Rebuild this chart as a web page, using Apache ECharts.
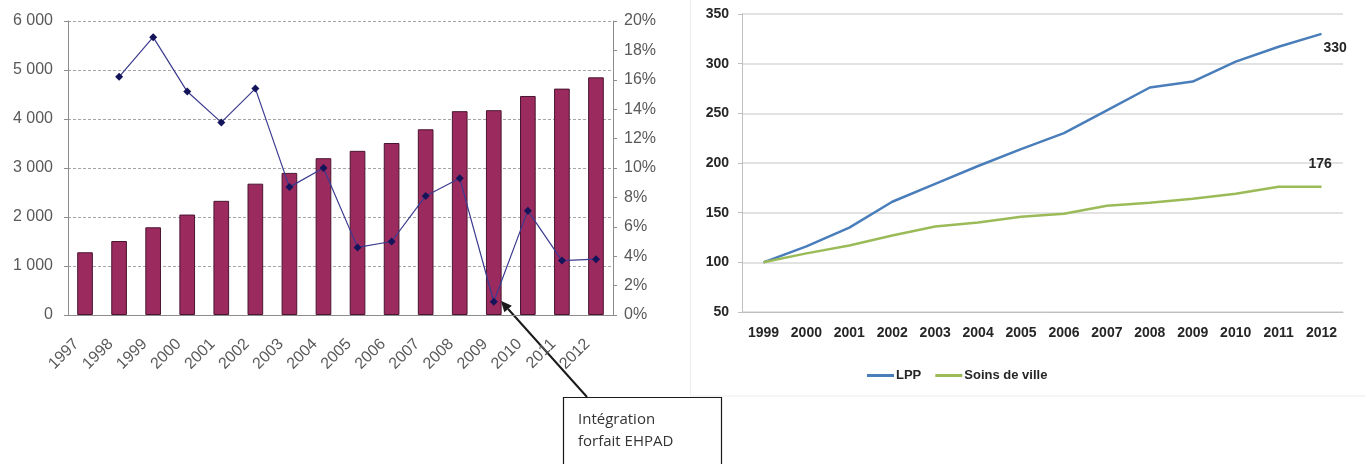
<!DOCTYPE html>
<html>
<head>
<meta charset="utf-8">
<script src="https://cdn.jsdelivr.net/npm/echarts@6/dist/echarts.min.js"></script>
<style>
  html, body { margin: 0; padding: 0; background: #fff; }
  #chart { width: 1366px; height: 464px; }
</style>
</head>
<body>
<div id="chart"></div>
<script>
// left chart : montants (barres) et taux d'évolution (courbe)
const yearsLeft = ['1997', '1998', '1999', '2000', '2001', '2002', '2003', '2004',
  '2005', '2006', '2007', '2008', '2009', '2010', '2011', '2012']
const montants = [1280, 1510, 1790, 2050, 2330, 2680, 2900, 3200,
  3350, 3510, 3790, 4160, 4180, 4470, 4620, 4850]
const evolution = [null, 16.2, 18.9, 15.2, 13.1, 15.4, 8.7, 10.0,
  4.6, 5.0, 8.1, 9.3, 0.9, 7.1, 3.7, 3.8]

// right chart : indices base 100 en 1999
const yearsRight = ['1999', '2000', '2001', '2002', '2003', '2004', '2005',
  '2006', '2007', '2008', '2009', '2010', '2011', '2012']
const lpp = [100, 116, 135, 161, 179, 197, 214, 230, 253, 276, 282, 302, 317, 330]
const soinsVille = [100, 109, 117, 127, 136, 140, 146, 149, 157, 160, 164, 169, 176, 176]

const grey = '#595959'
const leftFont = 'Liberation Sans'
const rightFont = 'Liberation Sans'

const chart = echarts.init(document.getElementById('chart'))

chart.setOption({
  animation: false,
  grid: [
    { left: 68, right: 753, top: 21, bottom: 149 },
    { left: 742, right: 23, top: 14, bottom: 152 }
  ],
  legend: {
    data: ['LPP', 'Soins de ville'],
    left: 862,
    top: 364,
    icon: 'rect',
    itemWidth: 27,
    itemHeight: 3,
    itemGap: 14,
    textStyle: { fontFamily: rightFont, fontWeight: 'bold', fontSize: 13, color: '#262626', padding: [0, 0, 0, -3] }
  },
  xAxis: [
    {
      type: 'category',
      gridIndex: 0,
      data: yearsLeft,
      axisLine: { lineStyle: { color: '#8c8c8c' } },
      axisTick: { length: 4, lineStyle: { color: '#8c8c8c' } },
      axisLabel: {
        rotate: 45,
        interval: 0,
        margin: 18,
        padding: [0, 12, 0, 0],
        fontFamily: leftFont,
        fontSize: 16,
        color: grey
      }
    },
    {
      type: 'category',
      gridIndex: 1,
      data: yearsRight,
      axisLine: { lineStyle: { color: '#bfbfbf' } },
      axisTick: { length: 4, lineStyle: { color: '#bfbfbf' } },
      axisLabel: {
        interval: 0,
        margin: 14,
        fontFamily: rightFont,
        fontWeight: 'bold',
        fontSize: 14,
        color: '#262626'
      }
    }
  ],
  yAxis: [
    {
      type: 'value',
      gridIndex: 0,
      min: 0,
      max: 6000,
      interval: 1000,
      axisLine: { show: true, lineStyle: { color: '#8c8c8c' } },
      axisTick: { show: true, length: 4, lineStyle: { color: '#8c8c8c' } },
      splitLine: { lineStyle: { color: '#a6a6a6', type: [3, 2] } },
      axisLabel: {
        margin: 15,
        fontFamily: leftFont,
        fontSize: 16,
        color: grey,
        formatter: v => v >= 1000 ? Math.floor(v / 1000) + ' 000' : String(v)
      }
    },
    {
      type: 'value',
      gridIndex: 0,
      position: 'right',
      min: 0,
      max: 20,
      interval: 2,
      axisLine: { show: true, lineStyle: { color: '#8c8c8c' } },
      axisTick: { show: true, length: 4, lineStyle: { color: '#8c8c8c' } },
      splitLine: { show: false },
      axisLabel: {
        margin: 11,
        fontFamily: leftFont,
        fontSize: 16,
        color: grey,
        formatter: '{value}%'
      }
    },
    {
      type: 'value',
      gridIndex: 1,
      min: 50,
      max: 350,
      interval: 50,
      axisLine: { show: true, lineStyle: { color: '#bfbfbf' } },
      axisTick: { show: true, length: 4, lineStyle: { color: '#bfbfbf' } },
      splitLine: { lineStyle: { color: '#d9d9d9', width: 1.5 } },
      axisLabel: {
        margin: 13,
        fontFamily: rightFont,
        fontWeight: 'bold',
        fontSize: 14,
        color: '#262626'
      }
    }
  ],
  series: [
    {
      name: 'Montants',
      type: 'bar',
      xAxisIndex: 0,
      yAxisIndex: 0,
      barWidth: '46%',
      itemStyle: { color: '#9b2a5f', borderColor: '#4a1530', borderWidth: 1 },
      data: montants
    },
    {
      name: 'Évolution',
      type: 'line',
      xAxisIndex: 0,
      yAxisIndex: 1,
      symbol: 'diamond',
      symbolSize: 8,
      lineStyle: { color: '#3b3b8f', width: 1.2 },
      itemStyle: { color: '#14145a' },
      data: evolution
    },
    {
      name: 'LPP',
      type: 'line',
      xAxisIndex: 1,
      yAxisIndex: 2,
      showSymbol: false,
      color: '#4a7ebb',
      lineStyle: { width: 2.5 },
      endLabel: {
        show: true,
        formatter: '{c}',
        distance: 2,
        offset: [0, 14],
        fontFamily: rightFont,
        fontWeight: 'bold',
        fontSize: 14,
        color: '#262626'
      },
      data: lpp
    },
    {
      name: 'Soins de ville',
      type: 'line',
      xAxisIndex: 1,
      yAxisIndex: 2,
      showSymbol: false,
      color: '#9bbb59',
      lineStyle: { width: 2.5 },
      endLabel: {
        show: true,
        formatter: '{c}',
        distance: 0,
        offset: [-13, -23],
        fontFamily: rightFont,
        fontWeight: 'bold',
        fontSize: 14,
        color: '#262626'
      },
      data: soinsVille
    }
  ]
})

// annotation : encadré + flèche vers le point 2009
const tip = chart.convertToPixel({ xAxisIndex: 0, yAxisIndex: 1 }, ['2009', evolution[12]])
const tx = tip[0] + 7
const ty = tip[1] - 1
const sx = 587
const sy = 397
const ang = Math.atan2(ty - sy, tx - sx)
const ah = 11
const aw = 5
const bx = tx - ah * Math.cos(ang)
const by = ty - ah * Math.sin(ang)

chart.setOption({
  graphic: [
    {
      type: 'rect',
      shape: { x: 690.5, y: -1, width: 690, height: 397 },
      style: { fill: 'none', stroke: '#ececec', lineWidth: 1 },
      silent: true
    },
    {
      type: 'line',
      shape: { x1: sx, y1: sy, x2: bx, y2: by },
      style: { stroke: '#1a1a1a', lineWidth: 2 }
    },
    {
      type: 'polygon',
      shape: {
        points: [
          [tx, ty],
          [bx + aw * Math.sin(ang), by - aw * Math.cos(ang)],
          [bx - aw * Math.sin(ang), by + aw * Math.cos(ang)]
        ]
      },
      style: { fill: '#1a1a1a' }
    },
    {
      type: 'rect',
      shape: { x: 563.5, y: 397.5, width: 158, height: 80 },
      style: { fill: '#fff', stroke: '#1a1a1a', lineWidth: 1.2 }
    },
    {
      type: 'text',
      left: 578,
      top: 409,
      style: {
        text: 'Intégration\nforfait EHPAD',
        fontFamily: 'Open Sans',
        fontSize: 15,
        lineHeight: 22,
        fill: '#333'
      }
    }
  ]
})
</script>
</body>
</html>
